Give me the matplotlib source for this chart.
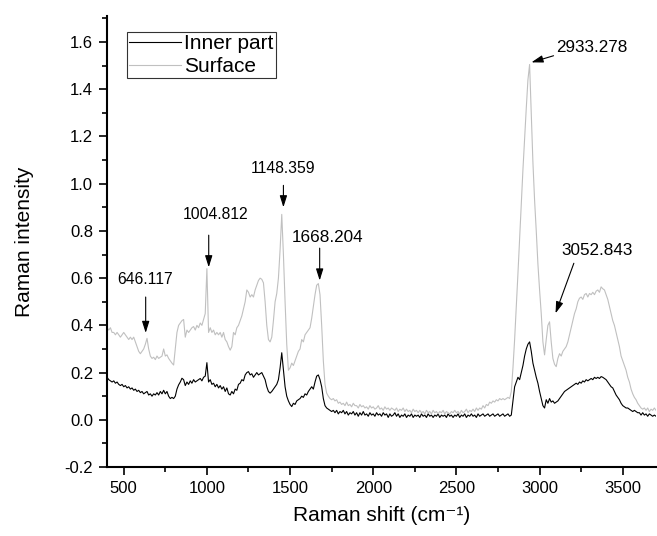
import numpy as np
import matplotlib
matplotlib.use('Agg')
import matplotlib.pyplot as plt

plt.rcParams['font.family'] = ['Liberation Sans', 'DejaVu Sans']

# Raman shift grid (cm-1), one value every 10 cm-1 from 400 to 3700
shift = np.arange(400, 3701, 10)

surface = [
    0.39, 0.38, 0.39, 0.37, 0.37, 0.36, 0.37, 0.36, 0.35, 0.36,
    0.37, 0.36, 0.35, 0.34, 0.35, 0.34, 0.35, 0.33, 0.31, 0.29,
    0.28, 0.29, 0.30, 0.32, 0.345, 0.30, 0.27, 0.26, 0.265, 0.255,
    0.27, 0.26, 0.265, 0.27, 0.30, 0.27, 0.275, 0.26, 0.25, 0.24,
    0.232, 0.30, 0.37, 0.40, 0.41, 0.42, 0.425, 0.35, 0.38, 0.37,
    0.38, 0.39, 0.395, 0.38, 0.40, 0.39, 0.41, 0.40, 0.425, 0.45,
    0.64, 0.37, 0.39, 0.37, 0.38, 0.36, 0.37, 0.36, 0.37, 0.35,
    0.37, 0.34, 0.33, 0.31, 0.295, 0.31, 0.37, 0.36, 0.39, 0.40,
    0.42, 0.44, 0.47, 0.50, 0.55, 0.54, 0.52, 0.53, 0.52, 0.55,
    0.57, 0.59, 0.60, 0.595, 0.58, 0.50, 0.40, 0.34, 0.33, 0.35,
    0.42, 0.50, 0.535, 0.60, 0.72, 0.87, 0.70, 0.50, 0.32, 0.21,
    0.22, 0.24, 0.23, 0.25, 0.27, 0.29, 0.30, 0.34, 0.33, 0.36,
    0.37, 0.38, 0.39, 0.43, 0.48, 0.53, 0.57, 0.577, 0.53, 0.40,
    0.25, 0.15, 0.113, 0.10, 0.09, 0.085, 0.09, 0.08, 0.085, 0.07,
    0.075, 0.065, 0.07, 0.06, 0.075, 0.06, 0.065, 0.055, 0.07, 0.06,
    0.06, 0.05, 0.065, 0.055, 0.06, 0.05, 0.055, 0.045, 0.06, 0.05,
    0.055, 0.045, 0.05, 0.06, 0.045, 0.05, 0.04, 0.055, 0.045, 0.05,
    0.04, 0.05, 0.045, 0.04, 0.05, 0.035, 0.045, 0.04, 0.05, 0.035,
    0.045, 0.035, 0.04, 0.03, 0.045, 0.035, 0.04, 0.03, 0.04, 0.03,
    0.035, 0.025, 0.04, 0.03, 0.035, 0.025, 0.04, 0.03, 0.035, 0.025,
    0.035, 0.03, 0.04, 0.025, 0.035, 0.03, 0.025, 0.035, 0.03, 0.04,
    0.03, 0.035, 0.025, 0.04, 0.03, 0.035, 0.045, 0.03, 0.04, 0.035,
    0.045, 0.035, 0.05, 0.04, 0.05, 0.045, 0.06, 0.05, 0.065, 0.06,
    0.075, 0.07, 0.08, 0.075, 0.085, 0.08, 0.09, 0.085, 0.09, 0.085,
    0.09, 0.095, 0.09, 0.12, 0.22, 0.34, 0.48, 0.62, 0.77, 0.92,
    1.06, 1.19, 1.32, 1.44, 1.505, 1.30, 1.09, 0.93, 0.80, 0.66,
    0.55, 0.45, 0.33, 0.275, 0.34, 0.40, 0.415, 0.33, 0.26, 0.235,
    0.225, 0.26, 0.28, 0.27, 0.29, 0.30, 0.31, 0.33, 0.36, 0.39,
    0.42, 0.45, 0.47, 0.50, 0.515, 0.52, 0.51, 0.53, 0.535, 0.52,
    0.535, 0.53, 0.54, 0.53, 0.545, 0.55, 0.54, 0.563, 0.555, 0.55,
    0.53, 0.51, 0.48, 0.45, 0.42, 0.40, 0.37, 0.34, 0.31, 0.27,
    0.25, 0.23, 0.21, 0.18, 0.16, 0.13, 0.11, 0.095, 0.085, 0.07,
    0.06, 0.05, 0.045, 0.05, 0.04, 0.05, 0.035, 0.045, 0.04, 0.05,
    0.04,
]

inner = [
    0.18, 0.17, 0.165, 0.16, 0.165, 0.155, 0.16, 0.15, 0.145, 0.15,
    0.14, 0.145, 0.135, 0.14, 0.13, 0.135, 0.125, 0.13, 0.12, 0.125,
    0.115, 0.12, 0.11, 0.115, 0.12, 0.105, 0.11, 0.10, 0.11, 0.105,
    0.115, 0.105, 0.12, 0.11, 0.125, 0.11, 0.12, 0.10, 0.09, 0.095,
    0.09, 0.10, 0.13, 0.148, 0.16, 0.176, 0.17, 0.145, 0.16, 0.15,
    0.165, 0.155, 0.17, 0.16, 0.165, 0.17, 0.175, 0.165, 0.18, 0.185,
    0.242, 0.16, 0.17, 0.15, 0.155, 0.14, 0.15, 0.135, 0.145, 0.13,
    0.14, 0.12, 0.135, 0.11, 0.105, 0.12, 0.11, 0.13, 0.125, 0.15,
    0.155, 0.17, 0.165, 0.19, 0.20, 0.204, 0.19, 0.195, 0.18, 0.19,
    0.20, 0.19, 0.195, 0.20, 0.185, 0.17, 0.14, 0.12, 0.113, 0.12,
    0.13, 0.14, 0.15, 0.17, 0.22, 0.284, 0.21, 0.14, 0.10, 0.08,
    0.065, 0.056, 0.07, 0.065, 0.08, 0.085, 0.09, 0.10, 0.095, 0.11,
    0.105, 0.12, 0.13, 0.14, 0.13, 0.16, 0.185, 0.19, 0.17, 0.14,
    0.09, 0.06, 0.05, 0.045, 0.04, 0.035, 0.04, 0.03, 0.04, 0.025,
    0.035, 0.03, 0.04, 0.025, 0.035, 0.02, 0.03, 0.025, 0.035, 0.02,
    0.03, 0.015, 0.03, 0.02, 0.035, 0.02, 0.025, 0.015, 0.03, 0.02,
    0.025, 0.015, 0.03, 0.02, 0.025, 0.015, 0.03, 0.02, 0.025, 0.01,
    0.025, 0.015, 0.02, 0.03, 0.015, 0.025, 0.01, 0.02, 0.015, 0.025,
    0.01, 0.02, 0.015, 0.025, 0.01, 0.02, 0.015, 0.02, 0.01, 0.025,
    0.015, 0.02, 0.01, 0.025, 0.015, 0.02, 0.01, 0.02, 0.015, 0.025,
    0.01, 0.02, 0.015, 0.02, 0.01, 0.025, 0.015, 0.02, 0.01, 0.02,
    0.015, 0.025, 0.01, 0.02, 0.015, 0.025, 0.01, 0.02, 0.015, 0.025,
    0.015, 0.02, 0.01, 0.025, 0.015, 0.02, 0.025, 0.015, 0.02, 0.025,
    0.015, 0.02, 0.025, 0.015, 0.02, 0.025, 0.015, 0.02, 0.025, 0.015,
    0.02, 0.025, 0.015, 0.02, 0.08, 0.14, 0.16, 0.18, 0.17, 0.20,
    0.23, 0.27, 0.30, 0.32, 0.33, 0.29, 0.24, 0.21, 0.18, 0.155,
    0.12, 0.09, 0.06, 0.05, 0.085, 0.07, 0.09, 0.075, 0.08, 0.07,
    0.075, 0.08, 0.09, 0.10, 0.11, 0.12, 0.125, 0.13, 0.135, 0.14,
    0.145, 0.15, 0.155, 0.15, 0.16, 0.155, 0.165, 0.16, 0.17, 0.165,
    0.17, 0.175, 0.17, 0.18, 0.175, 0.18, 0.175, 0.183, 0.18, 0.175,
    0.17, 0.16, 0.15, 0.14, 0.135, 0.12, 0.105, 0.095, 0.085, 0.07,
    0.06, 0.055, 0.05, 0.05, 0.045, 0.04, 0.035, 0.04, 0.035, 0.03,
    0.03, 0.02, 0.03, 0.02, 0.025, 0.015, 0.025, 0.02, 0.015, 0.02,
    0.015,
]

# peak labels: text, text position, arrow tail, arrow tip, font size
peak_labels = ['646.117', '1004.812', '1148.359', '1668.204', '2933.278', '3052.843']
label_xy = [(626, 0.596), (1053, 0.870), (1455, 1.065), (1726, 0.773), (3312, 1.576), (3348, 0.718)]
arrow_from = [(632, 0.52), (1011, 0.782), (1460, 0.993), (1678, 0.727), (3084, 1.542), (3206, 0.663)]
arrow_to = [(632, 0.368), (1011, 0.646), (1460, 0.90), (1678, 0.59), (2951, 1.514), (3096, 0.451)]
label_size = [11.3, 11.3, 11.3, 12.3, 12.3, 12.3]

fig = plt.figure(figsize=(6.57, 5.36), dpi=100)
ax = fig.add_axes([0.163, 0.1287, 0.8355, 0.8413])

ax.plot(shift, inner, color='black', lw=0.8, label='Inner part')
ax.plot(shift, surface, color='#c0c0c0', lw=0.8, label='Surface')

for txt, pos, p0, p1, fs in zip(peak_labels, label_xy, arrow_from, arrow_to, label_size):
    ax.text(pos[0], pos[1], txt, fontsize=fs, ha='center', va='center')
    ax.annotate('', xy=p1, xytext=p0,
                arrowprops=dict(arrowstyle='-|>,head_length=0.7,head_width=0.22',
                                color='black', lw=0.8, shrinkA=0, shrinkB=0))

ax.set_xlim(400, 3700)
ax.set_ylim(-0.2, 1.71)
ax.set_xticks([500, 1000, 1500, 2000, 2500, 3000, 3500])
ax.set_xticks(np.arange(750, 3700, 500), minor=True)
ax.set_yticks([-0.2, 0.0, 0.2, 0.4, 0.6, 0.8, 1.0, 1.2, 1.4, 1.6])
ax.set_yticks(np.arange(-0.1, 1.71, 0.2), minor=True)
ax.set_yticklabels(['-0.2', '0.0', '0.2', '0.4', '0.6', '0.8', '1.0', '1.2', '1.4', '1.6'])

for side in ['top', 'right']:
    ax.spines[side].set_visible(False)
for side in ['left', 'bottom']:
    ax.spines[side].set_linewidth(1.5)

ax.tick_params(which='major', direction='out', length=6, width=1.2, labelsize=12, pad=4)
ax.tick_params(which='minor', direction='out', length=3.5, width=1.2)

ax.set_xlabel('Raman shift (cm\u207b\u00b9)', fontsize=15, labelpad=7)
ax.set_ylabel('Raman intensity', fontsize=15, labelpad=22)

leg = ax.legend(loc='upper left', bbox_to_anchor=(0.0364, 0.9645), borderaxespad=0,
                fontsize=15, frameon=True, fancybox=False, borderpad=0.1,
                handlelength=2.5, handletextpad=0.15, labelspacing=0.2)
leg.get_frame().set_edgecolor('black')
leg.get_frame().set_linewidth(0.8)

fig.savefig('out.png', dpi=100)
